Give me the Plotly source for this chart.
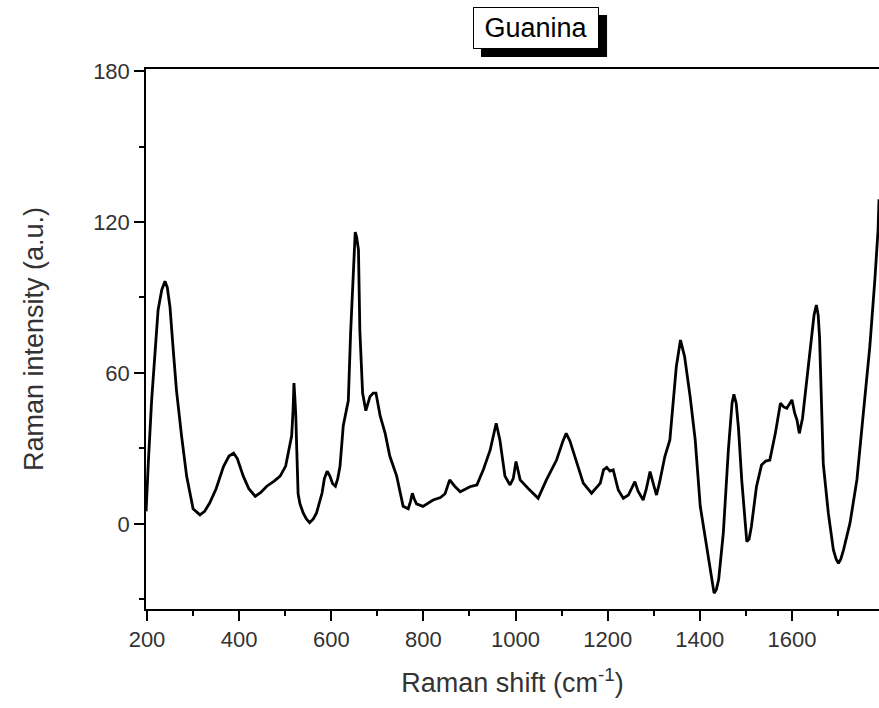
import plotly.graph_objects as go

# Raman shift (cm^-1) and intensity (a.u.)
raman_shift = [
    198, 200, 203, 210, 217, 224, 232, 239, 244, 250,
    257, 264, 275, 286, 300, 315, 325, 336, 350, 366,
    378, 388, 396, 409, 421, 435, 447, 460, 476, 489,
    501, 507, 514, 517, 519, 521, 523, 525, 528, 532,
    539, 546, 553, 561, 568, 580, 585, 591, 597, 603,
    609, 614, 619, 626, 637, 642, 648, 652, 655, 659,
    662, 668, 675, 684, 691, 697, 706, 717, 727, 742,
    756, 767, 772, 776, 780, 785, 799, 821, 837, 847,
    857, 868, 880, 901, 916, 930, 945, 953, 958, 966,
    977, 988, 995, 1001, 1006, 1010, 1027, 1038, 1049, 1067,
    1089, 1103, 1110, 1118, 1129, 1147, 1165, 1184, 1191, 1198,
    1205, 1212, 1223, 1234, 1245, 1254, 1259, 1266, 1277, 1284,
    1292, 1299, 1306, 1313, 1324, 1335, 1342, 1349, 1358, 1367,
    1379, 1390, 1401, 1412, 1423, 1431, 1436, 1441, 1451, 1462,
    1470, 1474, 1479, 1484, 1491, 1497, 1502, 1507, 1512, 1523,
    1534, 1543, 1552, 1564, 1575, 1582, 1589, 1600, 1606, 1611,
    1616, 1623, 1629, 1640, 1648, 1653, 1657, 1660, 1668, 1679,
    1690, 1696, 1701, 1706, 1712, 1726, 1741, 1755, 1769, 1780,
    1787, 1789,
]
intensity = [
    5, 14, 25, 49, 69, 85, 93, 96.5, 94, 86,
    69, 53, 35, 19, 6, 3.6, 5, 8.3, 14, 22.8,
    27, 28.1, 26, 19, 14, 11, 12.5, 15, 17, 19,
    23, 29, 35, 45, 56, 50, 43, 30, 12, 8,
    4.4, 2, 0.5, 2, 4.4, 12.3, 18, 21, 19, 16,
    15, 18, 23, 39, 49, 76, 102, 116, 114, 109,
    77, 52, 45, 50.6, 52, 52, 43, 36, 27, 19,
    7, 6, 9, 12.2, 10, 8, 7, 9.5, 10.5, 12,
    17.5, 15, 12.8, 14.8, 15.5, 21.5, 29.4, 36, 40, 33.4,
    19, 15.5, 18, 24.8, 21, 17.5, 14.2, 12, 10.2, 17.5,
    25.4, 33, 36, 33, 26.7, 16.2, 12.2, 16.2, 21.5, 22.5,
    21, 21.5, 13.5, 10.2, 11.5, 15, 16.8, 13, 9.5, 14,
    20.8, 16, 11.5, 16.8, 26.7, 33.4, 46.6, 62.5, 73.1, 66.5,
    50.6, 33.4, 7, -5, -17, -27.5, -26, -22, -3.7, 29.4,
    48, 51.5, 48, 38, 17.5, 2, -7, -6, -1, 14.8,
    23.4, 25, 25.4, 36, 48, 46.5, 46, 49.3, 44, 41.3,
    36, 42, 52, 69, 83, 87, 83, 74, 24, 4.3,
    -10.3, -14, -15.6, -14, -10.3, 0.3, 17.5, 44, 70.4, 97,
    117, 129,
]

title_text = "Guanina"
x_title = "Raman shift (cm<sup>-1</sup>)"
y_title = "Raman intensity (a.u.)"

FONT = "Liberation Sans, Arial, sans-serif"
TICK_COLOR = "#333333"

fig = go.Figure()
fig.add_trace(go.Scatter(
    x=raman_shift, y=intensity, mode="lines",
    line=dict(color="black", width=2.8),
    showlegend=False,
))

axis_common = dict(
    showline=True, linecolor="black", linewidth=1.5,
    ticks="outside", ticklen=10, tickwidth=1.5, tickcolor="black",
    showgrid=False, zeroline=False,
    tickfont=dict(family=FONT, size=22, color=TICK_COLOR),
)

fig.update_xaxes(
    range=[197.8, 1789], tick0=0, dtick=200, mirror=True,
    minor=dict(ticks="outside", ticklen=5, tickwidth=1.5, tickcolor="black", dtick=100, tick0=0, showgrid=False),
    title=dict(text=x_title, font=dict(family=FONT, size=27, color=TICK_COLOR), standoff=22),
    **axis_common,
)
fig.update_yaxes(
    range=[-33.8, 180.8], tick0=0, dtick=60,
    minor=dict(ticks="outside", ticklen=5, tickwidth=1.5, tickcolor="black", dtick=30, tick0=0, showgrid=False),
    title=dict(text=y_title, font=dict(family=FONT, size=27, color=TICK_COLOR), standoff=42),
    **axis_common,
)

# drop shadow behind the boxed title
fig.add_shape(
    type="rect", xref="paper", yref="paper",
    x0=0.457, x1=0.629, y0=1.0222, y1=1.1,
    fillcolor="black", line=dict(width=0), layer="above",
)
fig.add_annotation(
    text=title_text, xref="paper", yref="paper", x=0.532, y=1.076,
    xanchor="center", yanchor="middle", showarrow=False,
    font=dict(family=FONT, size=27, color="black"),
    bgcolor="white", bordercolor="black", borderwidth=1,
    width=122, height=38, borderpad=1,
)

fig.update_layout(
    width=879, height=708,
    margin=dict(l=146, r=0, t=69, b=99),
    plot_bgcolor="white", paper_bgcolor="white",
)

fig.write_html("out.html")
